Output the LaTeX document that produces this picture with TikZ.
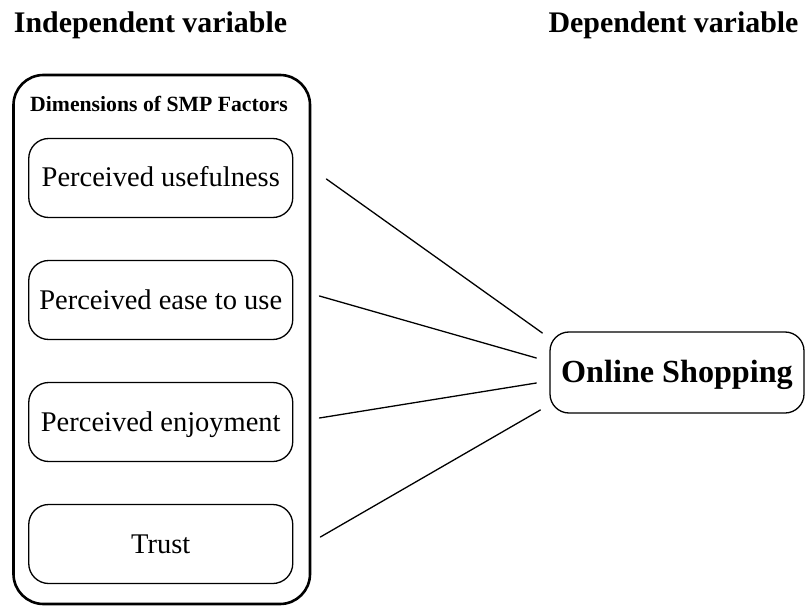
\documentclass[tikz,border=0pt]{standalone}
\usepackage{fontspec}
\setmainfont{Liberation Serif}
\usepackage{xcolor}
\usetikzlibrary{calc}
\definecolor{ink}{HTML}{000000}
\definecolor{paper}{HTML}{FFFFFF}
\tikzset{
  outerbox/.style={draw=ink, line width=2.6bp, rounded corners=30bp},
  factor/.style={draw=ink, line width=1.3bp, rounded corners=20bp, minimum width=264bp, minimum height=79bp, inner sep=0pt, text height=22bp, text depth=4bp, font=\fontsize{28.6}{30}\selectfont},
  target/.style={draw=ink, line width=1.3bp, rounded corners=19bp, minimum width=254bp, minimum height=81bp, inner sep=0pt, text height=24bp, text depth=5bp, font=\fontsize{32.3}{34}\selectfont\bfseries},
  link/.style={draw=ink, line width=1.3bp, line cap=round},
  head/.style={anchor=base, inner sep=0pt, font=\fontsize{30}{32}\selectfont\bfseries},
  subhead/.style={anchor=base, inner sep=0pt, font=\fontsize{21.8}{24}\selectfont\bfseries},
}

\begin{document}
\begin{tikzpicture}[x=1bp, y=-1bp]
  \useasboundingbox[fill=paper] (0,0) rectangle (805,606);
  % column titles
  \node[head] (indep) at (150.5,33) {Independent variable};
  \node[head] (dep) at (673.5,33) {Dependent variable};
  % group of factors
  \draw[outerbox] (13.5,75) rectangle (310,604);
  \node[subhead] (dims) at (159,112) {Dimensions of SMP Factors};
  \node[factor] (useful) at (160.75,178) {Perceived usefulness};
  \node[factor] (ease) at (160.75,300) {Perceived ease to use};
  \node[factor] (enjoy) at (160.75,422) {Perceived enjoyment};
  \node[factor] (trust) at (160.75,544) {Trust};
  % outcome
  \node[target] (shop) at (677,372.5) {Online Shopping};
  % links
  \draw[link] ($(useful.east)+(33,1)$) -- ($(shop.west)+(-7,-39.5)$);
  \draw[link] ($(ease.east)+(26,-4)$) -- ($(shop.west)+(-13,-14.5)$);
  \draw[link] ($(enjoy.east)+(26,-4)$) -- ($(shop.west)+(-13,10.5)$);
  \draw[link] ($(trust.east)+(27,-7)$) -- ($(shop.west)+(-9,37.5)$);
\end{tikzpicture}
\end{document}
